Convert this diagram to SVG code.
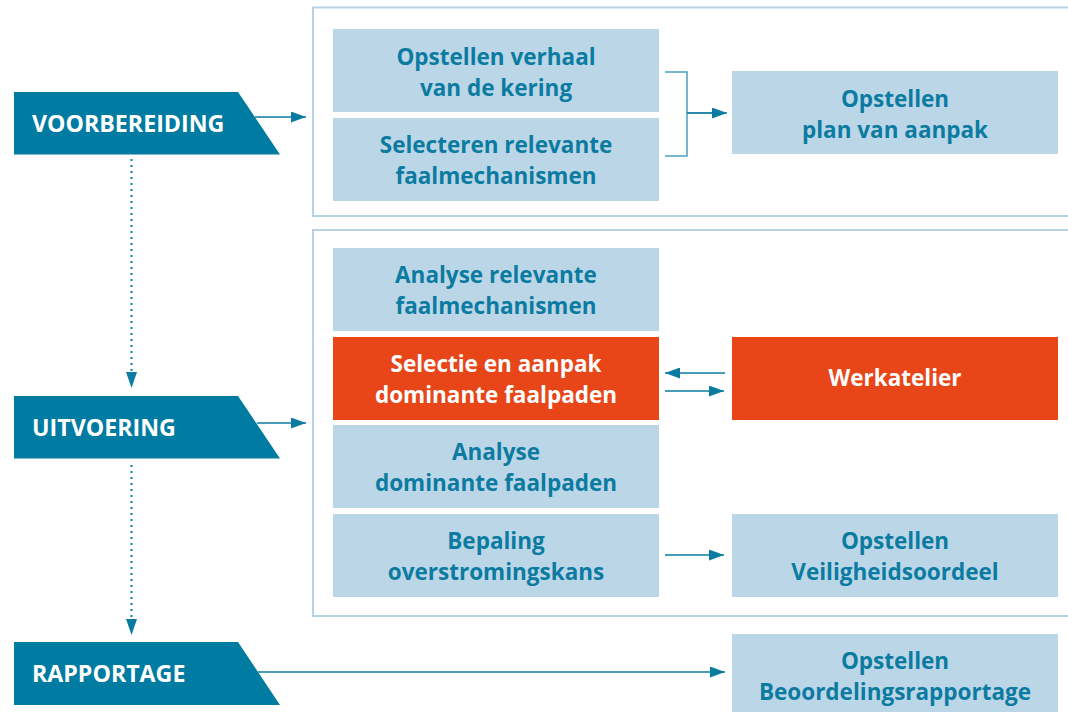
<svg xmlns="http://www.w3.org/2000/svg" width="1068" height="712" viewBox="0 0 1068 712">
<defs>
<style>
.panel{fill:none;stroke:#b6d3e5;stroke-width:2}
.box{fill:#bbd6e7}
.hot{fill:#e84518}
.lbl{fill:#007ba1}
.bt{font-family:"Open Sans","Noto Sans","Liberation Sans",sans-serif;font-weight:700;font-size:22.5px;fill:#0b7ba1;text-anchor:middle}
.wt{fill:#ffffff}
.lt{font-family:"Open Sans","Noto Sans","Liberation Sans",sans-serif;font-weight:700;font-size:23.2px;fill:#ffffff}
.ar{fill:none;stroke:#0b7ba1;stroke-width:1.5}
.br{fill:none;stroke:#4ba0c1;stroke-width:1.5}
.dot{fill:none;stroke:#0b7ba1;stroke-width:2;stroke-dasharray:2 4}
</style>
<marker id="ahl" viewBox="0 0 15 11" refX="15" refY="5.5" markerWidth="15" markerHeight="11" markerUnits="userSpaceOnUse" orient="auto">
<path d="M0,0 L15,5.5 L0,11 z" fill="#0b7ba1"/>
</marker>
</defs>
<rect width="1068" height="712" fill="#ffffff"/>

<g id="panels">
<rect class="panel" x="313" y="7.5" width="780" height="208.5"/>
<rect class="panel" x="313" y="230" width="780" height="386"/>
</g>

<g id="connectors">
<line class="ar" x1="255" y1="117" x2="306" y2="117" marker-end="url(#ahl)"/>
<line class="ar" x1="257" y1="423" x2="306" y2="423" marker-end="url(#ahl)"/>
<line class="ar" x1="258" y1="672" x2="725" y2="672" marker-end="url(#ahl)"/>
<path class="br" d="M665,72 H687 V156 H665 M687,113 H712"/>
<line class="ar" x1="687" y1="113" x2="727" y2="113" marker-end="url(#ahl)"/>
<line class="ar" x1="725" y1="373" x2="665" y2="373" marker-end="url(#ahl)"/>
<line class="ar" x1="665" y1="391" x2="724" y2="391" marker-end="url(#ahl)"/>
<line class="ar" x1="665" y1="555" x2="724" y2="555" marker-end="url(#ahl)"/>
<line class="dot" x1="131.5" y1="159" x2="131.5" y2="374"/>
<path d="M126,372 L137,372 L131.5,388 z" fill="#0b7ba1"/>
<line class="dot" x1="131.5" y1="465" x2="131.5" y2="620"/>
<path d="M126,619 L137,619 L131.5,635 z" fill="#0b7ba1"/>
</g>

<g id="voorbereiding">
<path class="lbl" d="M14,92 H238 L280,154.5 H14 z"/>
<text class="lt" x="32" y="132">VOORBEREIDING</text>
</g>
<g id="uitvoering">
<path class="lbl" d="M14,396 H238 L280,458.5 H14 z"/>
<text class="lt" x="32" y="436">UITVOERING</text>
</g>
<g id="rapportage">
<path class="lbl" d="M14,642 H238 L280,705 H14 z"/>
<text class="lt" x="32" y="682">RAPPORTAGE</text>
</g>

<g id="n-verhaal">
<rect class="box" x="333" y="29" width="326" height="83"/>
<text class="bt" x="496" y="64.5">Opstellen verhaal</text>
<text class="bt" x="496" y="95.5">van de kering</text>
</g>
<g id="n-selecteren">
<rect class="box" x="333" y="118" width="326" height="83"/>
<text class="bt" x="496" y="152.5">Selecteren relevante</text>
<text class="bt" x="496" y="183.5">faalmechanismen</text>
</g>
<g id="n-plan">
<rect class="box" x="732" y="71" width="326" height="83"/>
<text class="bt" x="895" y="106.5">Opstellen</text>
<text class="bt" x="895" y="137.5">plan van aanpak</text>
</g>
<g id="n-analyse-relevant">
<rect class="box" x="333" y="248" width="326" height="83"/>
<text class="bt" x="496" y="282.5">Analyse relevante</text>
<text class="bt" x="496" y="313.5">faalmechanismen</text>
</g>
<g id="n-selectie">
<rect class="hot" x="333" y="337" width="326" height="83"/>
<text class="bt wt" x="496" y="371.5">Selectie en aanpak</text>
<text class="bt wt" x="496" y="402.5">dominante faalpaden</text>
</g>
<g id="n-werkatelier">
<rect class="hot" x="732" y="337" width="326" height="83"/>
<text class="bt wt" x="895" y="386">Werkatelier</text>
</g>
<g id="n-analyse-dominant">
<rect class="box" x="333" y="425" width="326" height="83"/>
<text class="bt" x="496" y="459.5">Analyse</text>
<text class="bt" x="496" y="490.5">dominante faalpaden</text>
</g>
<g id="n-bepaling">
<rect class="box" x="333" y="514" width="326" height="83"/>
<text class="bt" x="496" y="548.5">Bepaling</text>
<text class="bt" x="496" y="579.5">overstromingskans</text>
</g>
<g id="n-veiligheid">
<rect class="box" x="732" y="514" width="326" height="83"/>
<text class="bt" x="895" y="548.5">Opstellen</text>
<text class="bt" x="895" y="579.5">Veiligheidsoordeel</text>
</g>
<g id="n-rapport">
<rect class="box" x="732" y="634" width="326" height="80"/>
<text class="bt" x="895" y="668.5">Opstellen</text>
<text class="bt" x="895" y="699.5">Beoordelingsrapportage</text>
</g>
</svg>
